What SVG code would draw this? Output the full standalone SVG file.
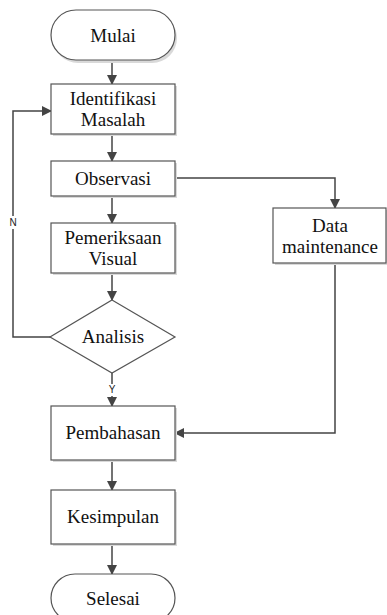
<svg xmlns="http://www.w3.org/2000/svg" width="387" height="615" viewBox="0 0 387 615">
<style>
.box{fill:#fff;stroke:#555;stroke-width:1.2}
.sh{fill:#d9d9d9}
.t{font-family:'Liberation Serif','DejaVu Serif',serif;font-size:19px;fill:#111;text-anchor:middle}
.c{fill:none;stroke:#444;stroke-width:1.5}
.lbl{font-family:'Liberation Sans','DejaVu Sans',sans-serif;font-size:10px;fill:#222;text-anchor:middle}
</style>
<defs>
<marker id="ah" markerWidth="10" markerHeight="10" refX="9" refY="5" orient="auto" markerUnits="userSpaceOnUse">
<path d="M0,0 L10,5 L0,10 Z" fill="#444"/>
</marker>
</defs>
<rect width="387" height="615" fill="#fff"/>
<g id="connectors">
<line class="c" x1="112" y1="60" x2="112" y2="84" marker-end="url(#ah)"/>
<line class="c" x1="112" y1="134" x2="112" y2="161" marker-end="url(#ah)"/>
<line class="c" x1="112" y1="196" x2="112" y2="223" marker-end="url(#ah)"/>
<line class="c" x1="112" y1="273" x2="112" y2="300" marker-end="url(#ah)"/>
<polyline class="c" points="175,178 335,178 335,208" marker-end="url(#ah)"/>
<polyline class="c" points="335,263 335,433 175,433" marker-end="url(#ah)"/>
<polyline class="c" points="51,337 13,337 13,111 51,111" marker-end="url(#ah)"/>
<rect x="7" y="216" width="12" height="13" fill="#fff"/>
<text class="lbl" x="13" y="226">N</text>
<line class="c" x1="112" y1="373" x2="112" y2="406" marker-end="url(#ah)"/>
<rect x="107" y="384" width="10" height="12" fill="#fff"/>
<text class="lbl" x="112" y="393">Y</text>
<line class="c" x1="112" y1="460" x2="112" y2="490" marker-end="url(#ah)"/>
<line class="c" x1="112" y1="544" x2="112" y2="574" marker-end="url(#ah)"/>
</g>
<g id="mulai">
<rect class="sh" x="53" y="13" width="124" height="50" rx="25"/>
<rect class="box" x="51" y="10" width="124" height="50" rx="25"/>
<text class="t" x="113" y="42">Mulai</text>
</g>
<g id="identifikasi">
<rect class="sh" x="53" y="86" width="124" height="50"/>
<rect class="box" x="51" y="84" width="124" height="50"/>
<text class="t" x="113" y="105">Identifikasi</text>
<text class="t" x="113" y="126">Masalah</text>
</g>
<g id="observasi">
<rect class="sh" x="53" y="163" width="124" height="35"/>
<rect class="box" x="51" y="161" width="124" height="35"/>
<text class="t" x="113" y="185">Observasi</text>
</g>
<g id="pemeriksaan">
<rect class="sh" x="53" y="225" width="124" height="50"/>
<rect class="box" x="51" y="223" width="124" height="50"/>
<text class="t" x="113" y="244">Pemeriksaan</text>
<text class="t" x="113" y="265">Visual</text>
</g>
<g id="analisis">
<polygon class="box" points="112,300 175,337 112,373 50,337"/>
<text class="t" x="113" y="343">Analisis</text>
</g>
<g id="data">
<rect class="sh" x="275" y="210" width="113" height="55"/>
<rect class="box" x="273" y="208" width="113" height="55"/>
<text class="t" x="330" y="232">Data</text>
<text class="t" x="330" y="253">maintenance</text>
</g>
<g id="pembahasan">
<rect class="sh" x="53" y="408" width="124" height="54"/>
<rect class="box" x="51" y="406" width="124" height="54"/>
<text class="t" x="113" y="439">Pembahasan</text>
</g>
<g id="kesimpulan">
<rect class="sh" x="53" y="492" width="124" height="54"/>
<rect class="box" x="51" y="490" width="124" height="54"/>
<text class="t" x="113" y="523">Kesimpulan</text>
</g>
<g id="selesai">
<rect class="box" x="51" y="574" width="124" height="48" rx="24"/>
<text class="t" x="113" y="605">Selesai</text>
</g>
</svg>
